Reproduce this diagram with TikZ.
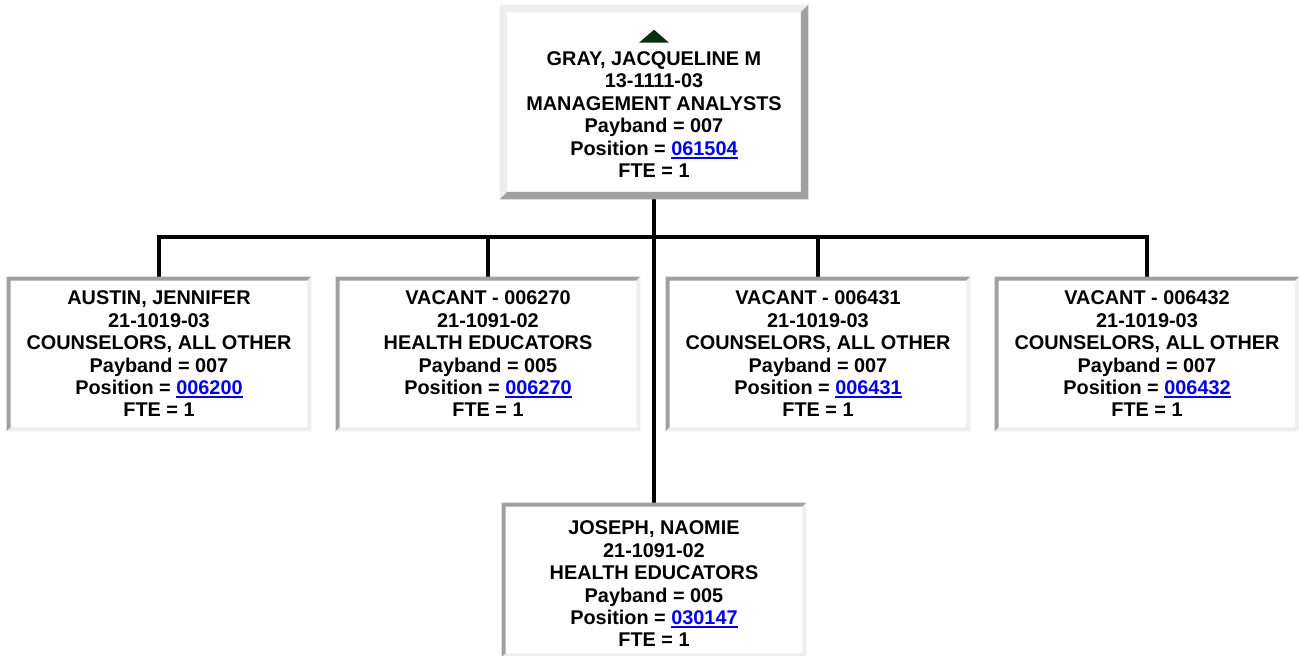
\documentclass[tikz,border=0pt]{standalone}
\usepackage{fontspec}
\setmainfont{Liberation Sans}
\usetikzlibrary{calc}
\definecolor{bevlight}{RGB}{238,238,238}
\definecolor{bevdark}{RGB}{160,160,160}
\definecolor{linkblue}{RGB}{0,0,238}
\definecolor{arrowgreen}{RGB}{12,46,16}
\newcommand{\poslink}[1]{\textcolor{linkblue}{\setbox0\hbox{#1}\rlap{\rule[-2.7pt]{\wd0}{1.5pt}}\box0}}

\begin{document}
\begin{tikzpicture}[x=0.75pt, y=-0.75pt,
  post/.style={inner sep=0pt, minimum width=228pt, minimum height=115.5pt,
    align=center, font={\fontsize{14.9pt}{16.8pt}\selectfont\bfseries}},
  chief/.style={post, minimum width=231pt, minimum height=145.5pt},
  link/.style={line width=3pt}]
\fill[white] (0,0) rectangle (1299,656);
\useasboundingbox (0,0) rectangle (1299,656);

\node[chief] (gray) at (654,102) {\rule{0pt}{29.3pt}GRAY, JACQUELINE M\\13-1111-03\\MANAGEMENT ANALYSTS\\Payband = 007\\Position = \poslink{061504}\\FTE = 1};
\node[post] (austin) at (159,354) {AUSTIN, JENNIFER\\21-1019-03\\COUNSELORS, ALL OTHER\\Payband = 007\\Position = \poslink{006200}\\FTE = 1};
\node[post] (vac6270) at (488,354) {VACANT - 006270\\21-1091-02\\HEALTH EDUCATORS\\Payband = 005\\Position = \poslink{006270}\\FTE = 1};
\node[post] (vac6431) at (818,354) {VACANT - 006431\\21-1019-03\\COUNSELORS, ALL OTHER\\Payband = 007\\Position = \poslink{006431}\\FTE = 1};
\node[post] (vac6432) at (1147,354) {VACANT - 006432\\21-1019-03\\COUNSELORS, ALL OTHER\\Payband = 007\\Position = \poslink{006432}\\FTE = 1};
\node[post] (joseph) at (654,580) {\rule{0pt}{16.2pt}JOSEPH, NAOMIE\\21-1091-02\\HEALTH EDUCATORS\\Payband = 005\\Position = \poslink{030147}\\FTE = 1};

\fill[arrowgreen] ($(gray.north)+(0,25)$) -- ($(gray.north)+(15,38)$)
  -- ($(gray.north)+(-15,38)$) -- cycle;

\coordinate (bus) at (654,237);
\draw[link] (gray.south) -- (joseph.north);
\draw[link] (austin.north) |- (bus) -| (vac6432.north);
\draw[link] (vac6270.north) -- (vac6270.north |- bus);
\draw[link] (vac6431.north) -- (vac6431.north |- bus);

\foreach \n/\t/\ca/\cb in {gray/5.5pt/bevlight/bevdark, austin/3pt/bevdark/bevlight,
  vac6270/3pt/bevdark/bevlight, vac6431/3pt/bevdark/bevlight,
  vac6432/3pt/bevdark/bevlight, joseph/3pt/bevdark/bevlight} {
  \fill[\ca] (\n.south west) -- (\n.north west) -- (\n.north east)
    -- ([shift={(-\t,-\t)}]\n.north east) -- ([shift={(\t,-\t)}]\n.north west)
    -- ([shift={(\t,\t)}]\n.south west) -- cycle;
  \fill[\cb] (\n.north east) -- (\n.south east) -- (\n.south west)
    -- ([shift={(\t,\t)}]\n.south west) -- ([shift={(-\t,\t)}]\n.south east)
    -- ([shift={(-\t,-\t)}]\n.north east) -- cycle;
}
\end{tikzpicture}
\end{document}
